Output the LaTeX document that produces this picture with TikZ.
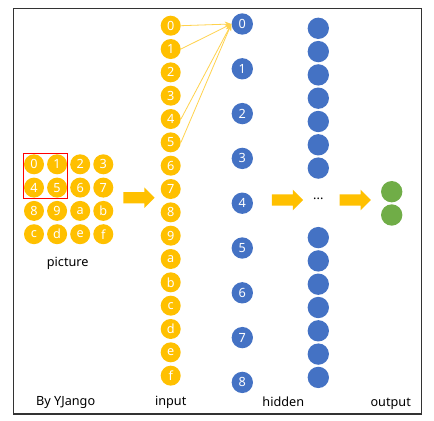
\documentclass[tikz,border=0pt]{standalone}
\usepackage{fontspec}
\setmainfont{Noto Sans}
\usepackage{tikz}
\usetikzlibrary{shapes,arrows.meta,positioning,fit}

\definecolor{gold}{HTML}{FFC000}
\definecolor{nnblue}{HTML}{4472C4}
\definecolor{nngreen}{HTML}{70AD47}
\definecolor{linkgold}{HTML}{FFD24D}

\begin{document}
\begin{tikzpicture}[
    x=0.75pt, y=-0.75pt,
    font=\fontsize{9.5}{11}\selectfont,
    unit/.style={circle, minimum size=15pt, inner sep=0pt, text=white},
    inp/.style={unit, fill=gold},
    hid/.style={unit, fill=nnblue, minimum size=16pt},
    outp/.style={unit, fill=nngreen, minimum size=16pt},
    bigarrow/.style={single arrow, fill=gold, minimum height=23.5pt,
        single arrow head extend=3.5pt, inner xsep=0pt, inner ysep=4pt},
    link/.style={-{Stealth[length=5pt, width=4pt]}, linkgold, line width=0.6pt}
]
\useasboundingbox (0,0) rectangle (434,420);
\draw[black!80, line width=0.8pt] (13.3,8.3) rectangle (421.7,414);

% picture grid
\foreach \l [count=\k from 0] in {0,1,2,3,4,5,6,7,8,9,a,b,c,d,e,f} {
    \pgfmathsetmacro{\cx}{34+mod(\k,4)*23.1}
    \pgfmathsetmacro{\cy}{164.3+int(\k/4)*23.3}
    \node[inp] (p\l) at (\cx,\cy) {\l};
}
\node[draw=red, line width=0.5pt, inner sep=0.3pt, fit=(p0)(p5)] (window) {};
\node (piclabel) at (67.7,263) {picture};

% input layer
\foreach \l [count=\i from 0] in {0,1,2,3,4,5,6,7,8,9,a,b,c,d,e,f}
    \node[inp] (in\i) at (170.7,25.7+\i*23.33) {\l};

% hidden layer
\foreach \i in {0,...,8}
    \node[hid] (h\i) at (242.3,24+\i*44.8) {\i};
\foreach \i in {1,...,7}
    \node[hid] (u\i) at (318.3,28.3+\i*23.3-23.3) {};
\foreach \i in {8,...,14}
    \node[hid] (u\i) at (318.3,237.6+\i*23.3-186.4) {};
\node (dots) at (318.3,199) {...};

% output layer
\node[outp] (o1) at (391.7,191.7) {};
\node[outp] (o2) at (391.7,215) {};

\node[bigarrow] (a1) at (136.2,197.7) {};
\node[bigarrow] (a2) at (284.7,200) {};
\node[bigarrow] (a3) at (352.5,200) {};

\foreach \i in {0,1,4,5}
    \draw[link] (in\i.east) -- (h0.west);

\node (author) at (65.7,402) {By YJango};
\node (inlabel) at (170.7,402) {input};
\node (hidlabel) at (283.3,402) {hidden};
\node (outlabel) at (390.7,403.5) {output};
\end{tikzpicture}
\end{document}
